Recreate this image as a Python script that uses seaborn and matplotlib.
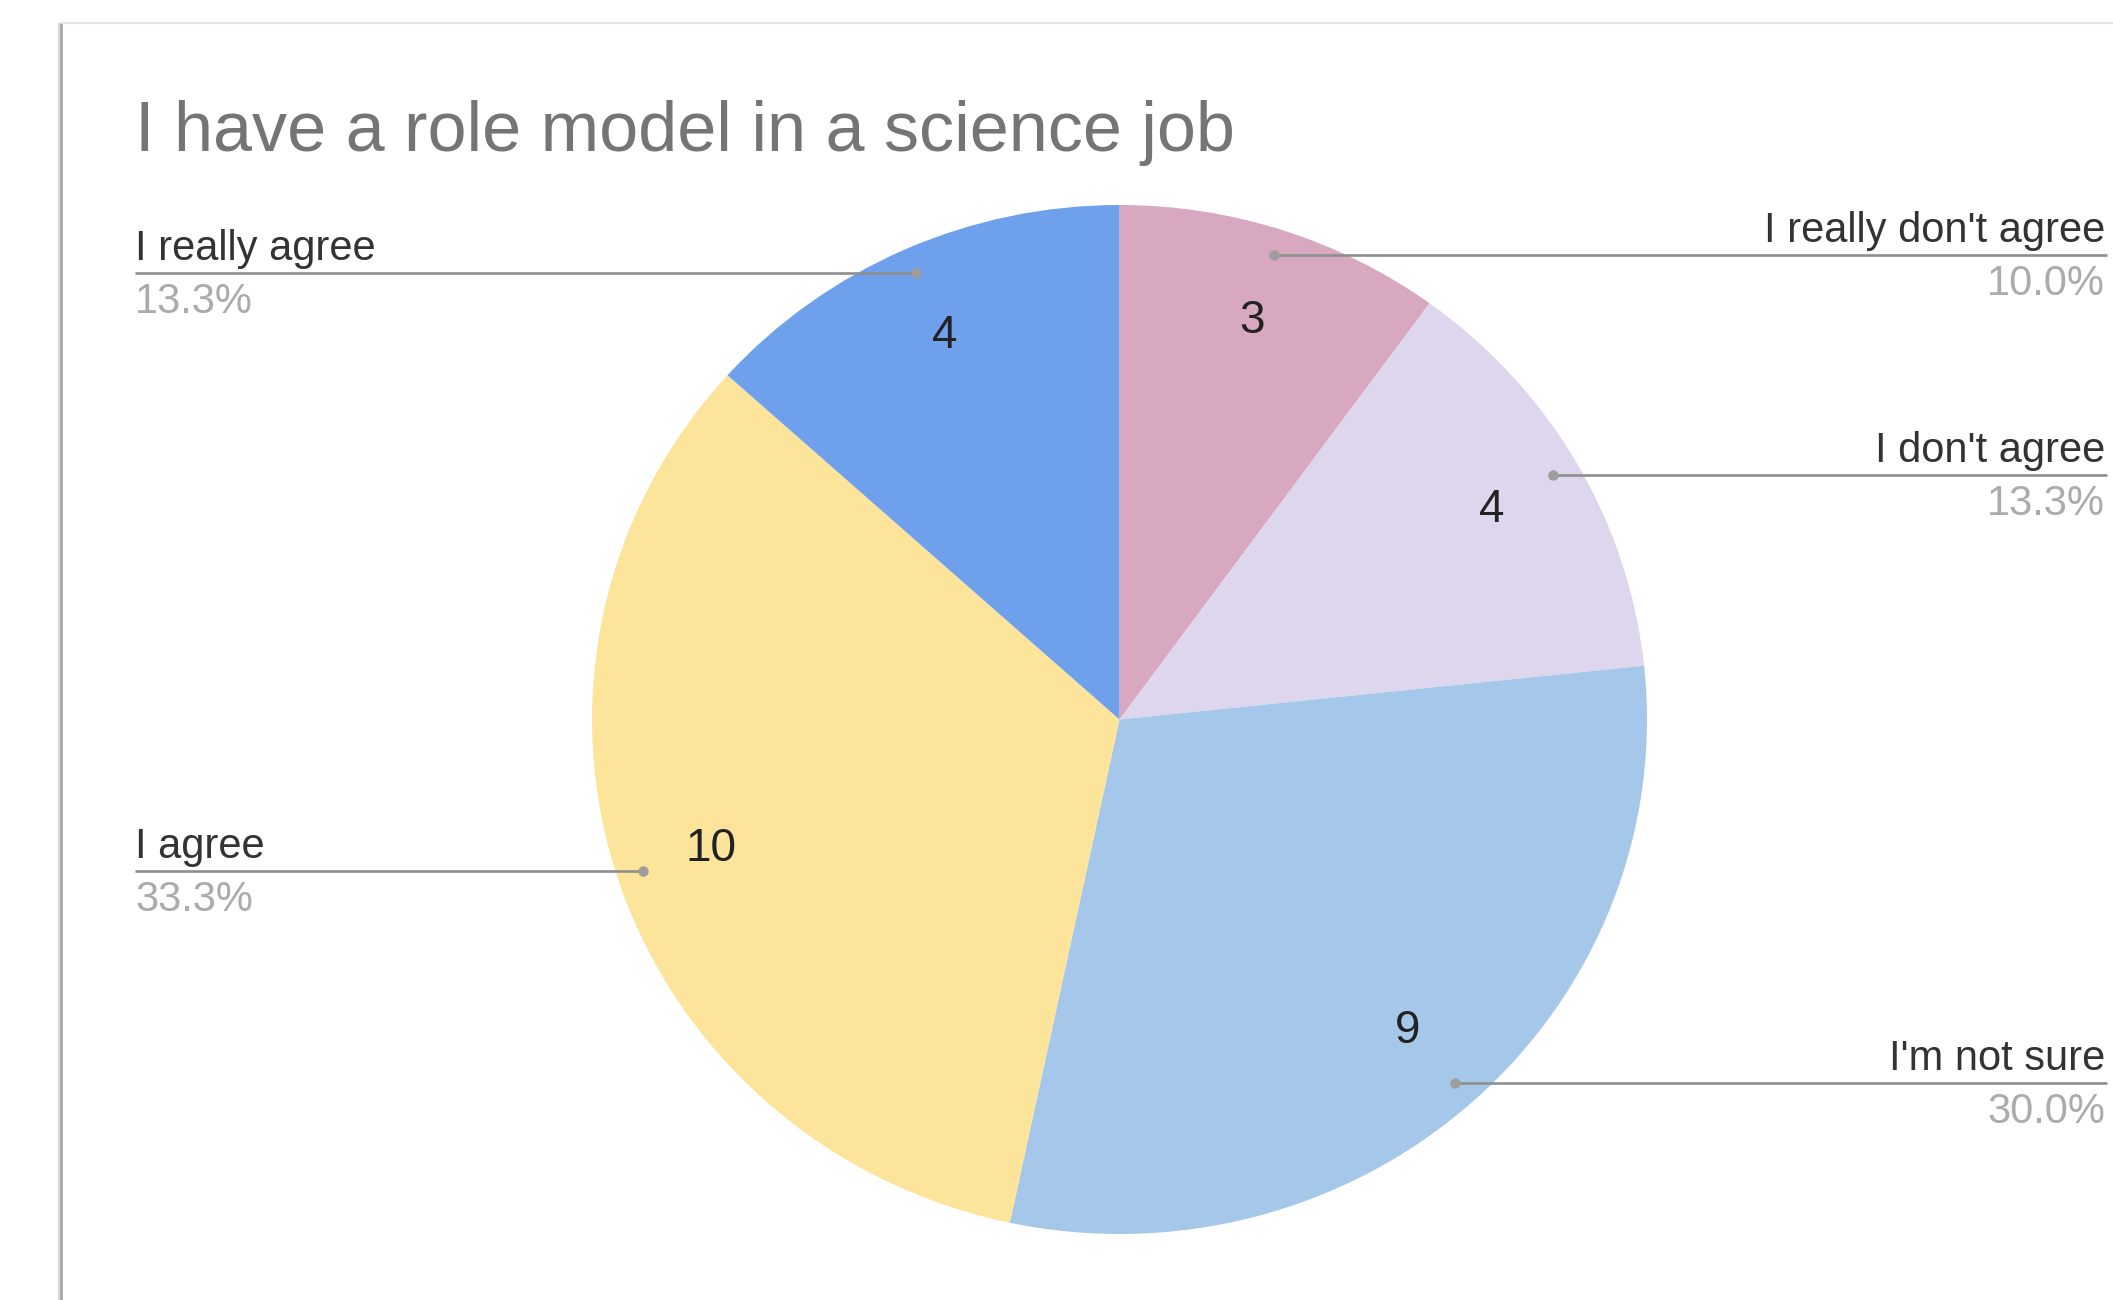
import matplotlib
matplotlib.use("Agg")
import matplotlib.pyplot as plt
import numpy as np
import seaborn as sns

# Survey answers, listed clockwise from 12 o'clock
categories = ["I really don't agree", "I don't agree", "I'm not sure", "I agree", "I really agree"]
counts = [3, 4, 9, 10, 4]
slice_colors = ["#d8a7c0", "#ddd6ec", "#a5c8ea", "#fde49b", "#6fa0eb"]
title = "I have a role model in a science job"

sns.set_theme(style="white")
plt.rcParams["font.family"] = ["Liberation Sans", "DejaVu Sans"]

W, H = 2113, 1300
fig = plt.figure(figsize=(W / 100, H / 100), dpi=100)
fig.patch.set_facecolor("white")
ax = fig.add_axes([0, 0, 1, 1])

# pie centre and radii in canvas pixels (slightly wider than tall)
CX, CY, RX, RY = 1119.5, 719.5, 527.5, 514.5


def to_data(px, py):
    return (px - CX) / RX, (CY - py) / RY


total = sum(counts)
palette = sns.color_palette(slice_colors)
wedges, _, value_texts = ax.pie(
    counts,
    colors=palette,
    startangle=90,
    counterclock=False,
    radius=1.0,
    autopct=lambda p: f"{p * total / 100:.0f}",
    pctdistance=0.815,
    wedgeprops=dict(linewidth=0),
    textprops=dict(fontsize=33, color="#222222"),
)

ax.set_aspect("auto")
x_lo, y_top = to_data(0, 0)
x_hi, y_bot = to_data(W, H)
ax.set_xlim(x_lo, x_hi)
ax.set_ylim(y_bot, y_top)
ax.axis("off")

# leader lines with category name above and share below
left_x, _ = to_data(135, 0)
right_x, _ = to_data(2107, 0)
right_text_x, _ = to_data(2105, 0)
for w, name, c in zip(wedges, categories, counts):
    mid = np.deg2rad((w.theta1 + w.theta2) / 2)
    dx, dy = 0.95 * np.cos(mid), 0.95 * np.sin(mid)
    on_right = dx > 0
    end_x = right_x if on_right else left_x
    ax.plot([dx, end_x], [dy, dy], color="#8e8e8e", lw=1.9,
            solid_capstyle="butt", zorder=4)
    ax.plot(dx, dy, "o", ms=7.5, color="#9d9d9d", mec="none", zorder=5)
    tx = right_text_x if on_right else left_x
    ha = "right" if on_right else "left"
    ax.text(tx, dy + 13 / RY, name, ha=ha, va="baseline",
            fontsize=30, color="#333333", zorder=6)
    ax.text(tx, dy - 40 / RY, f"{c / total * 100:.1f}%", ha=ha,
            va="baseline", fontsize=30, color="#ababab", zorder=6)

# chart title
tx, ty = to_data(135, 151)
ax.text(tx, ty, title, ha="left", va="baseline", fontsize=50.5, color="#757575")

# card outline: darker left edge, faint top edge
fx0, fy0 = to_data(61, 23)
fx1, fy1 = to_data(W, H)
ax.plot([fx0 - 1.5 / RX, fx0 - 1.5 / RX], [fy0, fy1], color="#d9d9d9", lw=3.0,
        clip_on=False, solid_capstyle="butt")
ax.plot([fx0, fx0], [fy0, fy1], color="#a3a3a3", lw=1.8, clip_on=False,
        solid_capstyle="butt")
ax.plot([fx0, fx1], [fy0, fy0], color="#e4e4e4", lw=1.6, clip_on=False,
        solid_capstyle="butt")

fig.savefig("out.png", dpi=100, facecolor="white")
